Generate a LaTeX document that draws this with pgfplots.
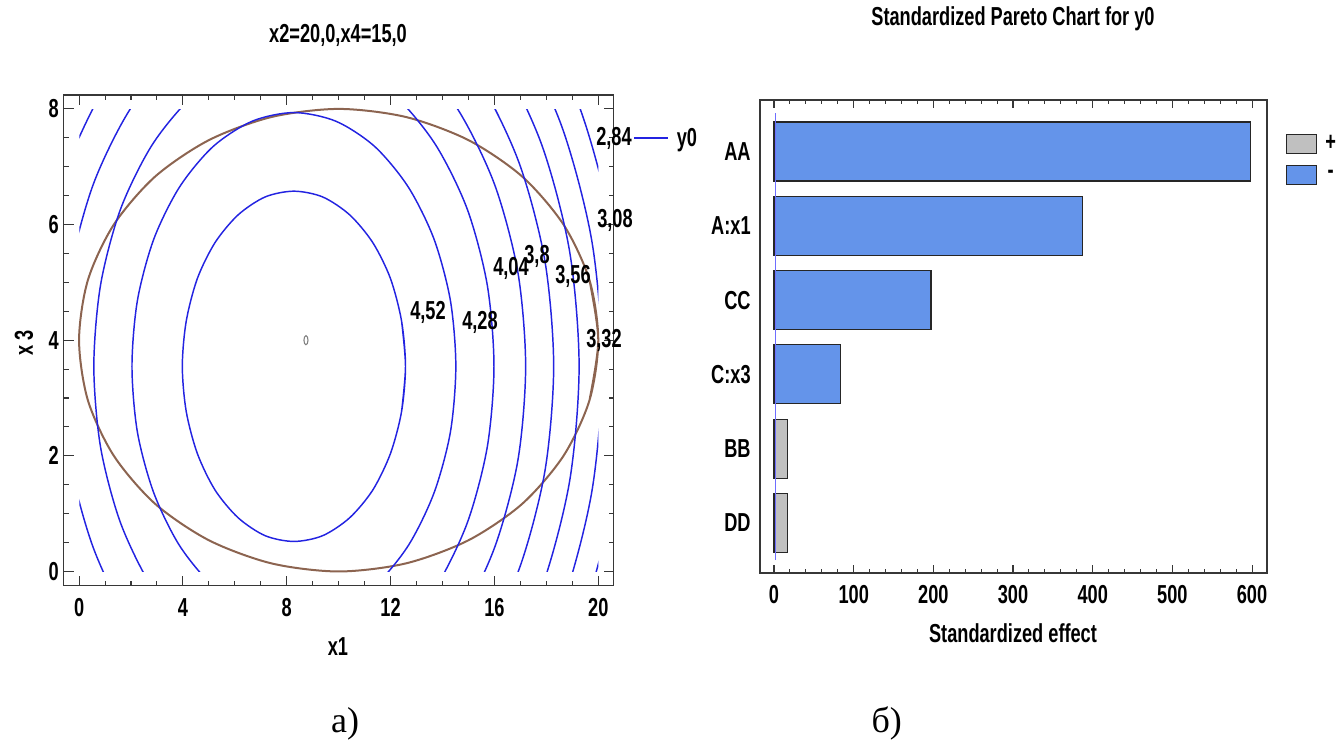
\documentclass[border=0pt]{standalone}
\usepackage{fontspec}
\setmainfont{Liberation Sans}
\newfontfamily\condf{Liberation Sans}[FakeStretch=0.70]
\newfontfamily\serf{Liberation Serif}
\usepackage{pgfplots}
\pgfplotsset{compat=1.18}
\newcommand\lbl{\condf\bfseries\fontsize{19.5}{23}\selectfont}
\definecolor{cblue}{RGB}{35,35,225}
\definecolor{cbrown}{RGB}{140,100,80}
\definecolor{pblue}{RGB}{100,148,234}
\definecolor{pgrey}{RGB}{192,192,192}
\definecolor{frm}{RGB}{55,55,55}
\pgfplotsset{cont/.style={cblue, line width=1.1pt, smooth, mark=none},
  boxlegend/.style={legend image code/.code={\draw[##1] (0pt,-7.125pt) rectangle (22.5pt,7.125pt);}},
  linelegend/.style={legend image code/.code={\draw[##1] (0pt,0pt) -- (25.5pt,0pt);}}}
\begin{document}
\begin{tikzpicture}
\path[use as bounding box] (0pt,0pt) rectangle (1005pt,-556.5pt);

% ---------- left: frame axis ----------
\begin{axis}[
  at={(47.625pt,-439.275pt)}, anchor=south west,
  scale only axis, width=412.575pt, height=368pt,
  xmin=-0.6, xmax=20.59, ymin=-0.246, ymax=8.24,
  xtick={0,4,...,20}, ytick={0,2,...,8},
  minor x tick num=3, minor y tick num=3,
  major tick length=7.5pt, minor tick length=3.75pt,
  tick style={frm, line width=0.8pt},
  axis line style={frm, line width=1pt},
  tick label style={font=\lbl},
  /pgf/number format/assume math mode=true,
  xticklabel style={yshift=-6pt},
]
\addplot[cbrown, line width=1.5pt, smooth, mark=none] coordinates {
(19.66,2.96) (20,4) (19.66,5.04) (18.66,6) (17.07,6.83) (15,7.46) (12.59,7.86) (10,8) (7.41,7.86) (5,7.46) (2.93,6.83) (1.34,6) (0.34,5.04) (0,4) (0.34,2.96) (1.34,2) (2.93,1.17) (5,0.54) (7.41,0.14) (10,0) (12.59,0.14) (15,0.54) (17.07,1.17) (18.66,2) (19.66,2.96) (20,4) (19.66,5.04)};
\addplot[only marks, mark=o, mark size=3.4pt, mark options={xscale=0.45, draw=gray, line width=0.8pt}] coordinates {(8.74,4.0)};
\end{axis}

% ---------- left: contour axis (clipped to data region) ----------
\begin{axis}[
  at={(59.475pt,-428.625pt)}, anchor=south west,
  scale only axis, width=389.25pt, height=346.8pt,
  xmin=0, xmax=20, ymin=0, ymax=8, hide axis,
  legend style={at={(axis description cs:1.0669,0.9375)}, anchor=west, draw=none, fill=none, inner sep=0pt, column sep=6pt, font=\lbl, nodes={inner sep=0pt}},
]
% 2.84
\addplot[cont, linelegend] coordinates {
(-4.44,3.55) (-4.01,1.23) (-2.74,-0.93) (-0.72,-2.78) (1.92,-4.20) (4.98,-5.10) (8.27,-5.40) (11.56,-5.10) (14.63,-4.20) (17.26,-2.78) (19.28,-0.93) (20.55,1.23) (20.98,3.55) (20.55,5.87) (19.28,8.03) (17.26,9.88) (14.63,11.30) (11.56,12.20) (8.27,12.50) (4.98,12.20) (1.92,11.30) (-0.72,9.88) (-2.74,8.03) (-4.01,5.87) (-4.44,3.55)};
\addlegendentry{y0}
% 3.08
\addplot[cont, forget plot] coordinates {
(-3.61,3.55) (-3.21,1.38) (-2.02,-0.64) (-0.13,-2.37) (2.33,-3.70) (5.20,-4.54) (8.27,-4.82) (11.35,-4.54) (14.21,-3.70) (16.67,-2.37) (18.56,-0.64) (19.75,1.38) (20.15,3.55) (19.75,5.72) (18.56,7.74) (16.67,9.47) (14.21,10.80) (11.35,11.64) (8.27,11.92) (5.20,11.64) (2.33,10.80) (-0.13,9.47) (-2.02,7.74) (-3.21,5.72) (-3.61,3.55)};
% 3.32
\addplot[cont, forget plot] coordinates {
(-2.72,3.55) (-2.35,1.55) (-1.25,-0.32) (0.50,-1.92) (2.78,-3.15) (5.43,-3.93) (8.27,-4.19) (11.11,-3.93) (13.77,-3.15) (16.04,-1.92) (17.79,-0.32) (18.89,1.55) (19.26,3.55) (18.89,5.55) (17.79,7.42) (16.04,9.02) (13.77,10.25) (11.11,11.03) (8.27,11.29) (5.43,11.03) (2.78,10.25) (0.50,9.02) (-1.25,7.42) (-2.35,5.55) (-2.72,3.55)};
% 3.56
\addplot[cont, forget plot] coordinates {
(-1.74,3.55) (-1.40,1.73) (-0.40,0.03) (1.19,-1.44) (3.27,-2.56) (5.68,-3.26) (8.27,-3.50) (10.86,-3.26) (13.28,-2.56) (15.35,-1.44) (16.94,0.03) (17.94,1.73) (18.28,3.55) (17.94,5.38) (16.94,7.08) (15.35,8.54) (13.28,9.66) (10.86,10.36) (8.27,10.60) (5.68,10.36) (3.27,9.66) (1.19,8.54) (-0.40,7.08) (-1.40,5.38) (-1.74,3.55)};
% 3.80
\addplot[cont, forget plot] coordinates {
(-0.66,3.55) (-0.36,1.92) (0.54,0.41) (1.96,-0.90) (3.81,-1.90) (5.96,-2.53) (8.27,-2.74) (10.58,-2.53) (12.74,-1.90) (14.58,-0.90) (16.00,0.41) (16.90,1.92) (17.20,3.55) (16.90,5.18) (16.00,6.70) (14.58,8.00) (12.74,9.00) (10.58,9.63) (8.27,9.84) (5.96,9.63) (3.81,9.00) (1.96,8.00) (0.54,6.70) (-0.36,5.18) (-0.66,3.55)};
% 4.04
\addplot[cont, forget plot] coordinates {
(8.27,8.98) (6.28,8.80) (4.42,8.25) (2.82,7.39) (1.59,6.27) (0.82,4.96) (0.56,3.55) (0.82,2.15) (1.59,0.84) (2.82,-0.29) (4.42,-1.15) (6.28,-1.70) (8.27,-1.88) (10.27,-1.70) (12.13,-1.15) (13.72,-0.29) (14.95,0.84) (15.72,2.15) (15.98,3.55) (15.72,4.96) (14.95,6.27) (13.72,7.39) (12.13,8.25) (10.27,8.80) (8.27,8.98)};
% 4.28
\addplot[cont, forget plot] coordinates {
(8.27,-0.84) (9.89,-0.69) (11.39,-0.25) (12.68,0.45) (13.67,1.36) (14.30,2.41) (14.51,3.55) (14.30,4.69) (13.67,5.75) (12.68,6.65) (11.39,7.35) (9.89,7.79) (8.27,7.94) (6.66,7.79) (5.15,7.35) (3.86,6.65) (2.87,5.75) (2.24,4.69) (2.03,3.55) (2.24,2.41) (2.87,1.36) (3.86,0.45) (5.15,-0.25) (6.66,-0.69) (8.27,-0.84)};
% 4.52
\addplot[cont, forget plot] coordinates {
(12.42,2.77) (12.57,3.55) (12.42,4.33) (11.99,5.07) (11.31,5.69) (10.42,6.17) (9.38,6.48) (8.27,6.58) (7.16,6.48) (6.12,6.17) (5.23,5.69) (4.55,5.07) (4.12,4.33) (3.97,3.55) (4.12,2.77) (4.55,2.04) (5.23,1.41) (6.12,0.93) (7.16,0.62) (8.27,0.52) (9.38,0.62) (10.42,0.93) (11.31,1.41) (11.99,2.04) (12.42,2.77) (12.57,3.55) (12.42,4.33)};
\end{axis}

% contour labels
\node[font=\lbl] at (460.5pt,-103.5pt) {2,84};
\node[font=\lbl] at (461.25pt,-165pt) {3,08};
\node[font=\lbl] at (453pt,-255pt) {3,32};
\node[font=\lbl] at (429.75pt,-207pt) {3,56};
\node[font=\lbl] at (402.75pt,-192pt) {3,8};
\node[font=\lbl] at (383.25pt,-201pt) {4,04};
\node[font=\lbl] at (360pt,-241.5pt) {4,28};
\node[font=\lbl] at (321pt,-234pt) {4,52};

% left texts
\node[font=\lbl, anchor=base] at (253.5pt,-32.25pt) {x2=20,0,x4=15,0};
\node[font=\lbl, anchor=base] at (253.5pt,-491.25pt) {x1};
\node[font=\lbl, rotate=90] at (18pt,-257.25pt) {x 3};

% ---------- right: Pareto chart ----------
\begin{axis}[
  at={(570pt,-429.75pt)}, anchor=south west,
  scale only axis, width=380.25pt, height=354.75pt,
  xmin=-17.6, xmax=618.8, ymin=-0.673, ymax=5.693,
  xtick={0,100,...,600}, minor x tick num=4,
  ytick={0,1,2,3,4,5}, yticklabels={DD,BB,C:x3,CC,A:x1,AA},
  ytick style={draw=none},
  major tick length=6pt, minor tick length=3pt,
  tick style={frm, line width=0.8pt},
  axis line style={frm, line width=1pt},
  tick label style={font=\lbl},
  /pgf/number format/assume math mode=true,
  xticklabel style={yshift=-5.5pt},
  yticklabel style={xshift=-3.5pt},
  legend style={at={(axis description cs:1.0375,0.9281)}, anchor=north west, draw=none, fill=none, inner sep=0pt, row sep=8pt, column sep=6pt, font=\lbl, nodes={inner sep=0pt}},
]
\addplot[xbar, bar shift=0pt, bar width=44.25pt, fill=pgrey, draw=black!85, line width=0.8pt, boxlegend]
  coordinates {(16.4,1) (16.4,0)};
\addlegendentry{+}
\addplot[xbar, bar shift=0pt, bar width=44.25pt, fill=pblue, draw=black!85, line width=0.8pt, boxlegend]
  coordinates {(598,5) (387,4) (197,3) (84,2)};
\addlegendentry{-}
\addplot[color={rgb,255:red,110;green,110;blue,255}, line width=0.9pt, mark=none, forget plot]
  coordinates {(1.8,-0.5) (1.8,5.52)};
\end{axis}

\node[font=\lbl, anchor=base] at (759.75pt,-19.5pt) {Standardized Pareto Chart for y0};
\node[font=\lbl, anchor=base] at (759.75pt,-481.5pt) {Standardized effect};

% captions
\node[font={\serf\fontsize{27}{30}\selectfont}, anchor=base] at (258.75pt,-549pt) {а)};
\node[font={\serf\fontsize{27}{30}\selectfont}, anchor=base] at (665pt,-549pt) {б)};
\end{tikzpicture}
\end{document}
